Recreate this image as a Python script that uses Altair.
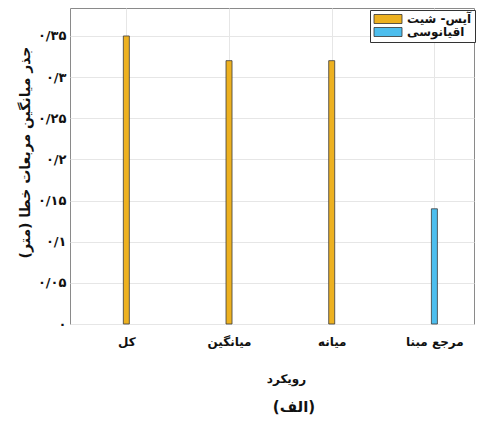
import altair as alt
import pandas as pd

categories = ["کل", "میانگین", "میانه", "مرجع مبنا"]
rmse_values = [0.35, 0.32, 0.32, 0.14]
groups = ["آیس- شیت", "آیس- شیت", "آیس- شیت", "اقیانوسی"]
group_names = ["آیس- شیت", "اقیانوسی"]
group_colors = ["#EDB120", "#4DBEEE"]
y_ticks = [0, 0.05, 0.1, 0.15, 0.2, 0.25, 0.3, 0.35]
y_tick_labels = ["۰", "۰/۰۵", "۰/۱", "۰/۱۵", "۰/۲", "۰/۲۵", "۰/۳", "۰/۳۵"]
x_title = "رویکرد"
y_title = "جذر میانگین مربعات خطا (متر)\u200f"
panel_title = "(الف)"

df = pd.DataFrame({
    "idx": list(range(1, len(categories) + 1)),
    "category": categories,
    "rmse": rmse_values,
    "group": groups,
})

FONT = "DejaVu Sans"
cat_expr = "[" + ",".join("'" + c + "'" for c in categories) + "][datum.value - 1]"
ylab_expr = "[" + ",".join("'" + c + "'" for c in y_tick_labels) + "][round(datum.value / 0.05)]"

chart = alt.Chart(df).mark_bar(size=6, stroke="#3a3a3a", strokeWidth=0.8).encode(
    x=alt.X("idx:Q",
            scale=alt.Scale(domain=[0.5, 4.337], nice=False, zero=False),
            axis=alt.Axis(values=[1, 2, 3, 4], labelExpr=cat_expr, title=x_title,
                          grid=True, gridColor="#e6e6e6", domain=False, ticks=False,
                          labelFont=FONT, labelFontWeight="bold", labelFontSize=12,
                          labelColor="#111", labelPadding=12,
                          titleFont=FONT, titleFontWeight="bold", titleFontSize=12,
                          titleColor="#111", titlePadding=26, titleX=216)),
    y=alt.Y("rmse:Q",
            scale=alt.Scale(domain=[0, 0.384], nice=False),
            axis=alt.Axis(values=y_ticks, labelExpr=ylab_expr, title=y_title,
                          grid=True, gridColor="#e6e6e6", domain=False, ticks=False,
                          labelFont=FONT, labelFontWeight="bold", labelFontSize=13,
                          labelColor="#111", labelPadding=4,
                          titleFont=FONT, titleFontWeight="bold", titleFontSize=14,
                          titleColor="#111", titleX=-38, titleY=144)),
    color=alt.Color("group:N",
                    scale=alt.Scale(domain=group_names, range=group_colors),
                    legend=alt.Legend(title=None, orient="none", legendX=300, legendY=2,
                                      strokeColor="#333", fillColor="white",
                                      padding=3, rowPadding=-3,
                                      symbolType="M-1,-0.9H4.6V0.9H-1Z",
                                      symbolSize=100, symbolStrokeColor="#333",
                                      symbolStrokeWidth=0.8, symbolOpacity=1,
                                      labelFont=FONT, labelFontWeight="bold",
                                      labelFontSize=12, labelColor="#111",
                                      labelOffset=22)),
).properties(
    width=404,
    height=316,
    title=alt.TitleParams(panel_title, orient="bottom", font=FONT, fontSize=15,
                          fontWeight="bold", color="#111", offset=16,
                          frame="group", dx=22),
    autosize=alt.AutoSizeParams(type="none"),
    padding={"left": 62, "top": 0, "right": 2, "bottom": 96},
).configure_view(stroke="#8a8a8a", strokeWidth=1)

chart.save("out.html", embed_options={"renderer": "svg", "actions": False})
